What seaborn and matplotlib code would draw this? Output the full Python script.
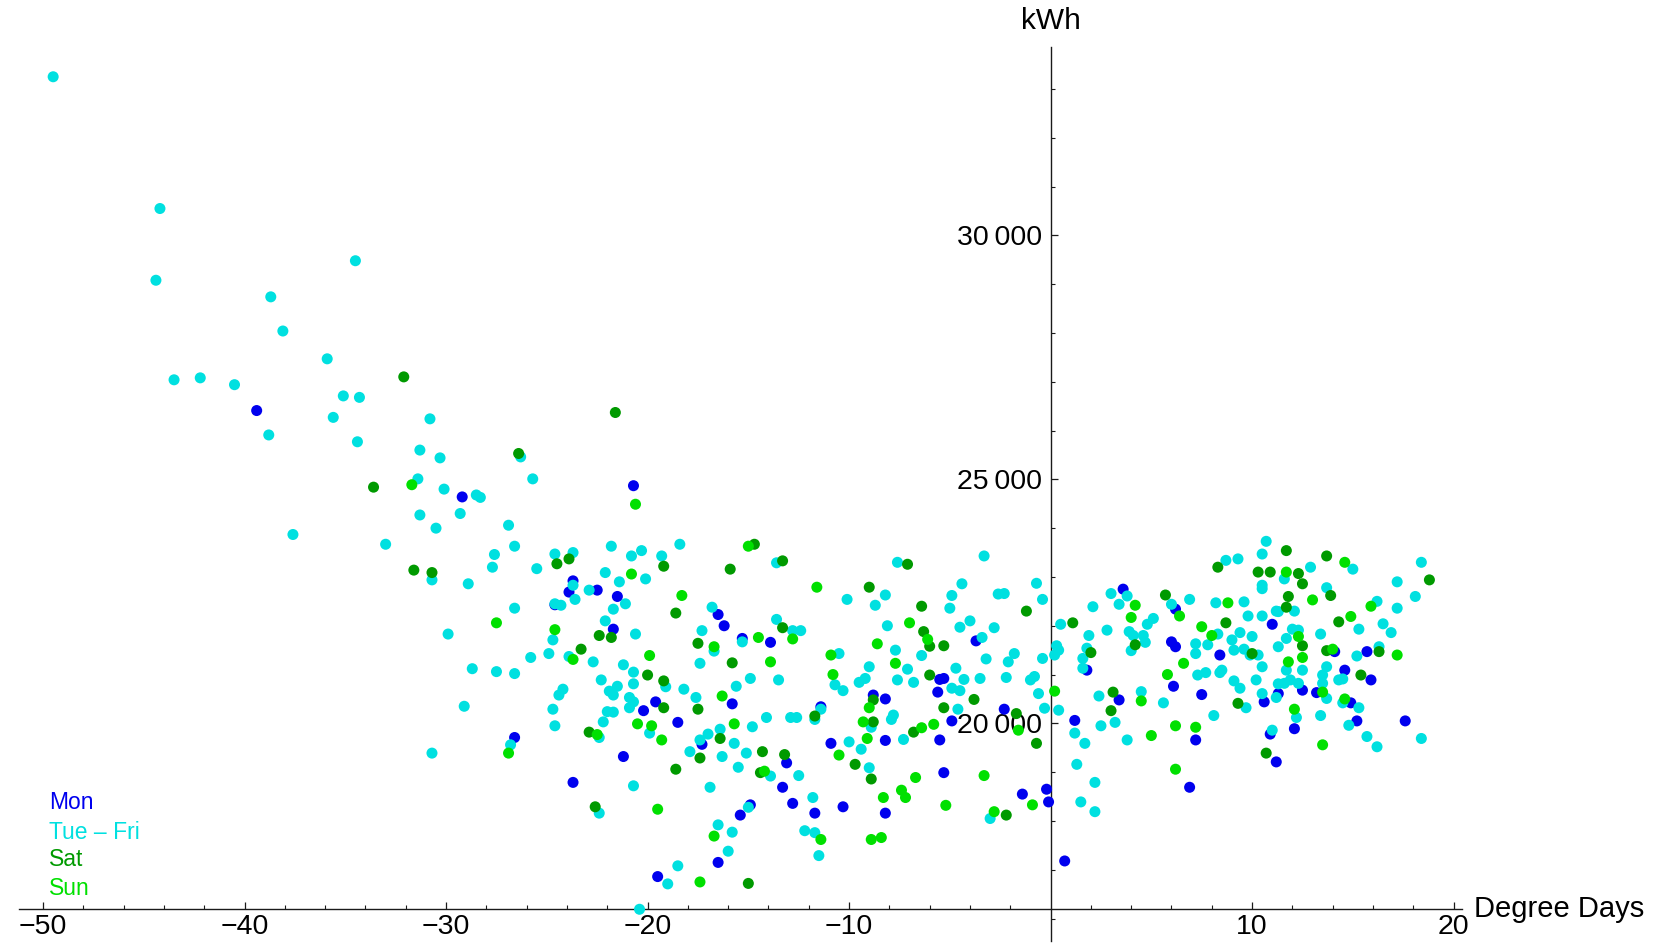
import pandas as pd
import seaborn as sns
import matplotlib
matplotlib.use("Agg")
import matplotlib.pyplot as plt

# Degree days (x) and daily kWh (y), per day group
mon_x = [-39.4, -20.7, -29.2, -23.7, -23.9, -22.5, -21.5, -21.7, -24.6, -20.2,
         -19.6, -18.5, -26.6, -21.2, -23.7, -17.3, -16.5, -16.2, -15.8, -15.3,
         -13.9, -13.3, -13.1, -12.8, -14.9, -15.4, -16.5, -19.5, -11.7, -10.3,
         -8.2, -5.3, -10.9, -8.2, -5.5, -4.9, -8.8, -8.2, -11.4, -5.5,
         -5.3, -5.6, -3.7, 3.6, 6.2, 1.8, 3.4, 1.2, -0.2, -0.1,
         -1.4, -2.3, 6.1, 7.2, 6.9, 7.5, 8.4, 6.0, 6.2, 10.6,
         11.0, 11.3, 12.5, 13.2, 14.1, 15.7, 14.6, 15.9, 14.9, 15.2,
         17.6, 12.1, 10.9, 11.2, 0.7]
mon_y = [26410, 24870, 24640, 22920, 22690, 22730, 22600, 21930, 22430, 20260,
         20440, 20020, 19710, 19320, 18790, 19570, 22230, 22000, 20400, 21740,
         21660, 18690, 19190, 18360, 18330, 18120, 17150, 16860, 18160, 18290,
         18160, 18990, 19590, 19650, 19660, 20050, 20580, 20500, 20340, 20900,
         20920, 20640, 21690, 22750, 22340, 21090, 20480, 20060, 18650, 18390,
         18550, 20290, 20760, 19660, 18690, 20590, 21400, 21670, 21570, 20440,
         22030, 20610, 20680, 20630, 21470, 21470, 21090, 20890, 20420, 20050,
         20050, 19890, 19780, 19210, 17180]

tue_x = [-49.5, -44.2, -34.5, -44.4, -38.7, -38.1, -35.9, -43.5, -42.2, -40.5,
         -35.1, -34.3, -35.6, -30.8, -38.8, -34.4, -31.3, -30.3, -26.3, -31.4,
         -25.7, -37.6, -33.0,
         -30.1, -28.5, -28.3, -31.3, -29.3, -30.5, -26.9, -26.6, -27.6, -27.7,
         -30.7, -28.9, -25.5, -24.6, -23.7, -23.7, -23.6, -22.9, -21.8, -20.8,
         -20.3, -22.1, -21.4, -20.1, -21.1, -21.7, -22.1, -20.6, -19.3, -18.4,
         -26.6, -24.6, -24.3, -29.9, -24.7, -24.9, -23.9, -22.7, -25.8, -28.7,
         -27.5, -26.6, -21.2, -20.7, -22.3, -21.9, -21.5, -21.7, -20.7, -20.9,
         -20.7, -20.9, -24.2, -24.4, -24.7, -24.6, -29.1, -22.2, -22.0, -21.7,
         -19.1, -18.2, -17.6, -19.9, -22.4, -26.8, -30.7, -20.7, -22.4, -17.9,
         -17.4, -17.0, -16.4, -16.3, -15.7, -15.1, -15.5, -16.9, -17.3, -17.4,
         -16.8, -16.7, -15.6, -14.9, -15.3, -14.8, -14.1, -13.9, -12.5, -15.0,
         -15.8, -16.5, -16.0, -18.5, -19.0, -20.4, -12.2, -11.7, -11.5, -11.8,
         -3.0, -9.0, -10.0, -9.4, -7.3, -4.6, -7.9, -7.8, -8.9, -11.4,
         -11.7, -12.9, -12.6, -10.5, -10.7, -10.3, -9.5, -9.2, -9.0, -10.1,
         -8.2, -8.7, -8.1, -7.7, -7.1, -7.6, -6.8, -6.4, -4.9, -4.5,
         -4.3, -4.7, -3.5, -5.0, -4.9, -4.4, -4.5, -4.0, -3.4, -2.8,
         -2.6, -3.3, -3.2, -7.6, -13.6, -12.4, -12.8, -13.6, -13.5,
         10.7, 10.5, 15.0, 18.4, 17.2, 18.1, 17.2, 16.2, 12.9, 8.7,
         9.3, 11.6, 10.5, 10.5, 13.7, 12.1, 11.2, 10.5, 9.8, 9.6,
         8.2, 6.9, 6.0, 4.8, 5.1, 3.0, 3.4, 3.8, 3.9, 4.1,
         4.6, 4.7, 4.0, 2.1, 2.8, 1.9, 0.5, 0.3, 0.4, 0.2,
         1.8, 1.6, 1.6, 2.4, 3.2, 2.5, 1.2, 1.7, 1.3, 2.2,
         1.5, 2.2, -0.3, 0.4, -0.6, -0.8, -1.0, -2.2, -0.4, -1.8,
         -2.1, -0.7, -0.4, -2.3, 4.5, 5.6, 3.8, 8.1, 7.3, 7.7,
         7.2, 7.2, 8.3, 7.8, 8.4, 8.5, 9.0, 9.1, 9.4, 10.0,
         9.6, 9.9, 10.3, 10.2, 10.5, 9.7, 9.1, 9.4, 10.5, 11.3,
         11.7, 12.0, 12.3, 11.3, 11.7, 11.9, 11.6, 12.5, 12.3, 11.3,
         11.2, 13.7, 13.5, 13.7, 13.5, 13.4, 15.3, 15.2, 16.3, 16.5,
         16.9, 14.5, 14.3, 14.5, 15.3, 14.8, 15.7, 16.2, 18.4, 13.4,
         12.2, 11.0]
tue_y = [33250, 30550, 29480, 29080, 28740, 28040, 27470, 27040, 27080, 26940,
         26710, 26680, 26270, 26240, 25910, 25770, 25600, 25440, 25460, 25010,
         25010, 23870, 23670,
         24800, 24680, 24630, 24270, 24300, 24000, 24060, 23630, 23460, 23200,
         22940, 22860, 23170, 23470, 23500, 22830, 22540, 22730, 23630, 23430,
         23540, 23090, 22900, 22960, 22450, 22340, 22100, 21830, 23430, 23670,
         22360, 22450, 22420, 21830, 21710, 21430, 21370, 21260, 21350, 21120,
         21060, 21020, 21200, 21050, 20890, 20660, 20760, 20580, 20810, 20530,
         20440, 20320, 20700, 20580, 20290, 19950, 20350, 20030, 20240, 20230,
         20750, 20700, 20530, 19800, 19710, 19560, 19390, 18720, 18160, 19420,
         19660, 19780, 19880, 19320, 19590, 19390, 19100, 18690, 21900, 21230,
         22380, 21480, 20760, 20920, 21670, 19930, 20120, 18920, 18930, 18280,
         17770, 17920, 17380, 17080, 16710, 16190, 17800, 17760, 17290, 18480,
         18050, 19090, 19620, 19470, 19670, 20290, 20080, 20170, 19920, 20290,
         20080, 20120, 20120, 21430, 20790, 20670, 20840, 20920, 21160, 22540,
         22630, 22420, 22000, 21500, 21110, 20890, 20840, 21390, 20720, 20670,
         20900, 21130, 20920, 22360, 22620, 22860, 21970, 22100, 21760, 21960,
         22650, 23430, 21320, 23300, 23290, 21900, 21900, 22130, 20890,
         23730, 23470, 23160, 23300, 22900, 22600, 22360, 22500, 23200, 23340,
         23370, 22960, 22830, 22760, 22780, 22300, 22300, 22200, 22200, 22490,
         22470, 22540, 22440, 22030, 22150, 22660, 22440, 22610, 21880, 21800,
         21800, 21660, 21490, 22390, 21910, 21800, 22030, 21590, 21500, 21400,
         21540, 21330, 21130, 20560, 20020, 19950, 19800, 19590, 19160, 18790,
         18390, 18190, 20310, 20270, 20610, 20960, 20890, 20940, 21330, 21430,
         21260, 22870, 22540, 22660, 20650, 20420, 19660, 20160, 20990, 21040,
         21430, 21630, 21830, 21610, 21040, 21090, 21710, 21500, 21860, 21780,
         21520, 21400, 21400, 20890, 20610, 20320, 20870, 20720, 21160, 22290,
         21740, 21930, 21910, 21570, 21090, 20890, 20820, 21090, 20820, 20810,
         20530, 20510, 20990, 21160, 20820, 21830, 21930, 21380, 21570, 22040,
         21860, 20910, 20890, 20420, 20320, 19960, 19730, 19520, 19690, 20160,
         20120, 19860]

sat_x = [-32.1, -26.4, -33.6, -21.6, -31.6, -30.7, -24.5, -23.9, -22.4, -21.8,
         -19.2, -18.6, -23.3, -20.0, -19.2, -19.2, -17.5, -22.9, -22.6, -18.6,
         -17.4, -16.4, -17.5, -15.9, -15.8, -14.7, -14.3, -14.4, -13.2, -15.0,
         -8.9, -9.7, -6.8, -5.3, -3.8, -8.8, -8.8, -11.7, -9.0, -6.4,
         -6.3, -6.0, -5.3, -6.0, -7.1, -13.3, -13.3,
         11.7, 13.7, 18.8, 8.3, 10.3, 10.9, 12.3, 12.5, 11.8, 11.7,
         13.9, 5.7, 4.2, 1.1, 2.0, 3.1, 3.0, -0.7, -1.7, -1.2,
         -2.2, 8.7, 10.0, 9.3, 12.5, 13.7, 14.3, 16.3, 15.4, 10.7]
sat_y = [27100, 25530, 24840, 26370, 23140, 23090, 23270, 23370, 21800, 21760,
         23220, 22260, 21520, 20990, 20870, 20320, 20290, 19820, 18290, 19060,
         19290, 19690, 21640, 23160, 21240, 23670, 19420, 18990, 19360, 16720,
         18860, 19160, 19820, 20320, 20490, 20030, 20480, 20150, 22790, 22400,
         21880, 21580, 21590, 20990, 23260, 23330, 21960,
         23540, 23430, 22940, 23200, 23100, 23100, 23070, 22860, 22600, 22380,
         22620, 22630, 21610, 22060, 21450, 20640, 20260, 19590, 20200, 22300,
         18120, 22060, 21430, 20410, 21590, 21490, 22080, 21470, 20990, 19390]

sun_x = [-31.7, -20.6, -20.8, -18.3, -27.5, -24.6, -23.7, -19.9, -20.5, -19.8,
         -19.3, -22.5, -26.9, -19.5, -16.7, -16.3, -15.7, -15.0, -14.5, -13.9,
         -14.2, -12.8, -16.7, -17.4, -11.4, -8.9, -8.4, -8.3, -7.4, -7.2,
         -6.7, -5.2, -3.3, -2.8, -10.5, -9.1, -6.4, -5.8, -9.3, -9.0,
         -10.8, -10.9, -11.6, -7.0, -8.6, -7.7, -6.1,
         14.6, 11.7, 15.9, 13.0, 8.8, 6.4, 4.2, 4.0, 0.2, -1.6,
         -0.9, 4.5, 5.8, 6.6, 5.0, 6.2, 7.2, 6.2, 7.5, 8.0,
         12.3, 12.5, 11.8, 13.5, 14.0, 14.9, 17.2, 14.6, 12.1, 13.5]
sun_y = [24890, 24490, 23060, 22620, 22060, 21920, 21310, 21390, 19990, 19950,
         19660, 19770, 19390, 18240, 21570, 20560, 19990, 23630, 21760, 21260,
         19020, 21730, 17690, 16750, 17620, 17620, 17660, 18480, 18630, 18480,
         18890, 18320, 18930, 18190, 19350, 19690, 19910, 19980, 20030, 20320,
         21000, 21400, 22790, 22060, 21630, 21230, 21720,
         23300, 23100, 22400, 22530, 22470, 22200, 22420, 22170, 20660, 19860,
         18330, 20460, 21000, 21230, 19750, 19950, 19920, 19060, 21980, 21800,
         21780, 21350, 21260, 20640, 21520, 22190, 21400, 20500, 20290, 19560]

groups = ["Mon", "Tue \u2013 Fri", "Sat", "Sun"]
colors = ["#0000ee", "#00e0e0", "#009a00", "#00e000"]

x_major = [-50, -40, -30, -20, -10, 10, 20]
x_minor = [v for v in range(-50, 21, 2) if v % 10 != 0]
y_major = [20000, 25000, 30000]
y_minor = [v for v in range(16000, 34000, 1000) if v % 5000 != 0]

df = pd.concat([
    pd.DataFrame({"dd": mon_x, "kwh": mon_y, "day": groups[0]}),
    pd.DataFrame({"dd": tue_x, "kwh": tue_y, "day": groups[1]}),
    pd.DataFrame({"dd": sat_x, "kwh": sat_y, "day": groups[2]}),
    pd.DataFrame({"dd": sun_x, "kwh": sun_y, "day": groups[3]}),
], ignore_index=True)

sns.set_style("white")
plt.rcParams["font.family"] = ["Liberation Sans", "DejaVu Sans"]
plt.rcParams["text.color"] = "black"

fig = plt.figure(figsize=(16.61, 9.47), dpi=100)
ax = fig.add_axes([0.01138, 0.00686, 0.8686, 0.943])

sns.scatterplot(data=df, x="dd", y="kwh", hue="day", hue_order=groups,
                palette=dict(zip(groups, colors)), s=63, linewidth=0,
                legend=False, ax=ax, zorder=3)

ax.set_xlim(-51.2, 20.4)
ax.set_ylim(15550, 33850)
ax.set_xlabel("")
ax.set_ylabel("")

# Mathematica style axes crossing inside the plot
for side in ["top", "right"]:
    ax.spines[side].set_visible(False)
ax.spines["left"].set_position(("data", 0))
ax.spines["bottom"].set_position(("data", 16200))
for side in ["left", "bottom"]:
    ax.spines[side].set_color("#1a1a1a")
    ax.spines[side].set_linewidth(1.0)
ax.patch.set_alpha(0)

ax.set_xticks(x_major)
ax.set_xticklabels(["\u2212" + str(-v) if v < 0 else str(v) for v in x_major])
ax.set_xticks(x_minor, minor=True)
ax.set_yticks(y_major)
ax.set_yticklabels(["{}\u2009000".format(v // 1000) for v in y_major])
ax.set_yticks(y_minor, minor=True)

ax.tick_params(which="both", bottom=True, left=True, top=False, right=False)
ax.tick_params(which="major", direction="in", length=5, width=0.9, color="#1a1a1a",
               labelsize=20.5, labelcolor="black")
ax.tick_params(which="minor", direction="in", length=3, width=0.8, color="#1a1a1a")
ax.tick_params(axis="x", which="major", pad=3.5)
ax.tick_params(axis="y", which="major", pad=6)

ax.text(0, 34390, "kWh", ha="center", va="center", fontsize=21.5, clip_on=False)
ax.text(21.0, 16200, "Degree Days", ha="left", va="center", fontsize=21, clip_on=False)

# colored key in the lower left corner
legend_y = [18370, 17770, 17200, 16610]
for name, col, yy in zip(groups, colors, legend_y):
    ax.text(-49.7, yy, name, color=col, fontsize=16.5, ha="left", va="center")

fig.savefig("out.png", dpi=100)
